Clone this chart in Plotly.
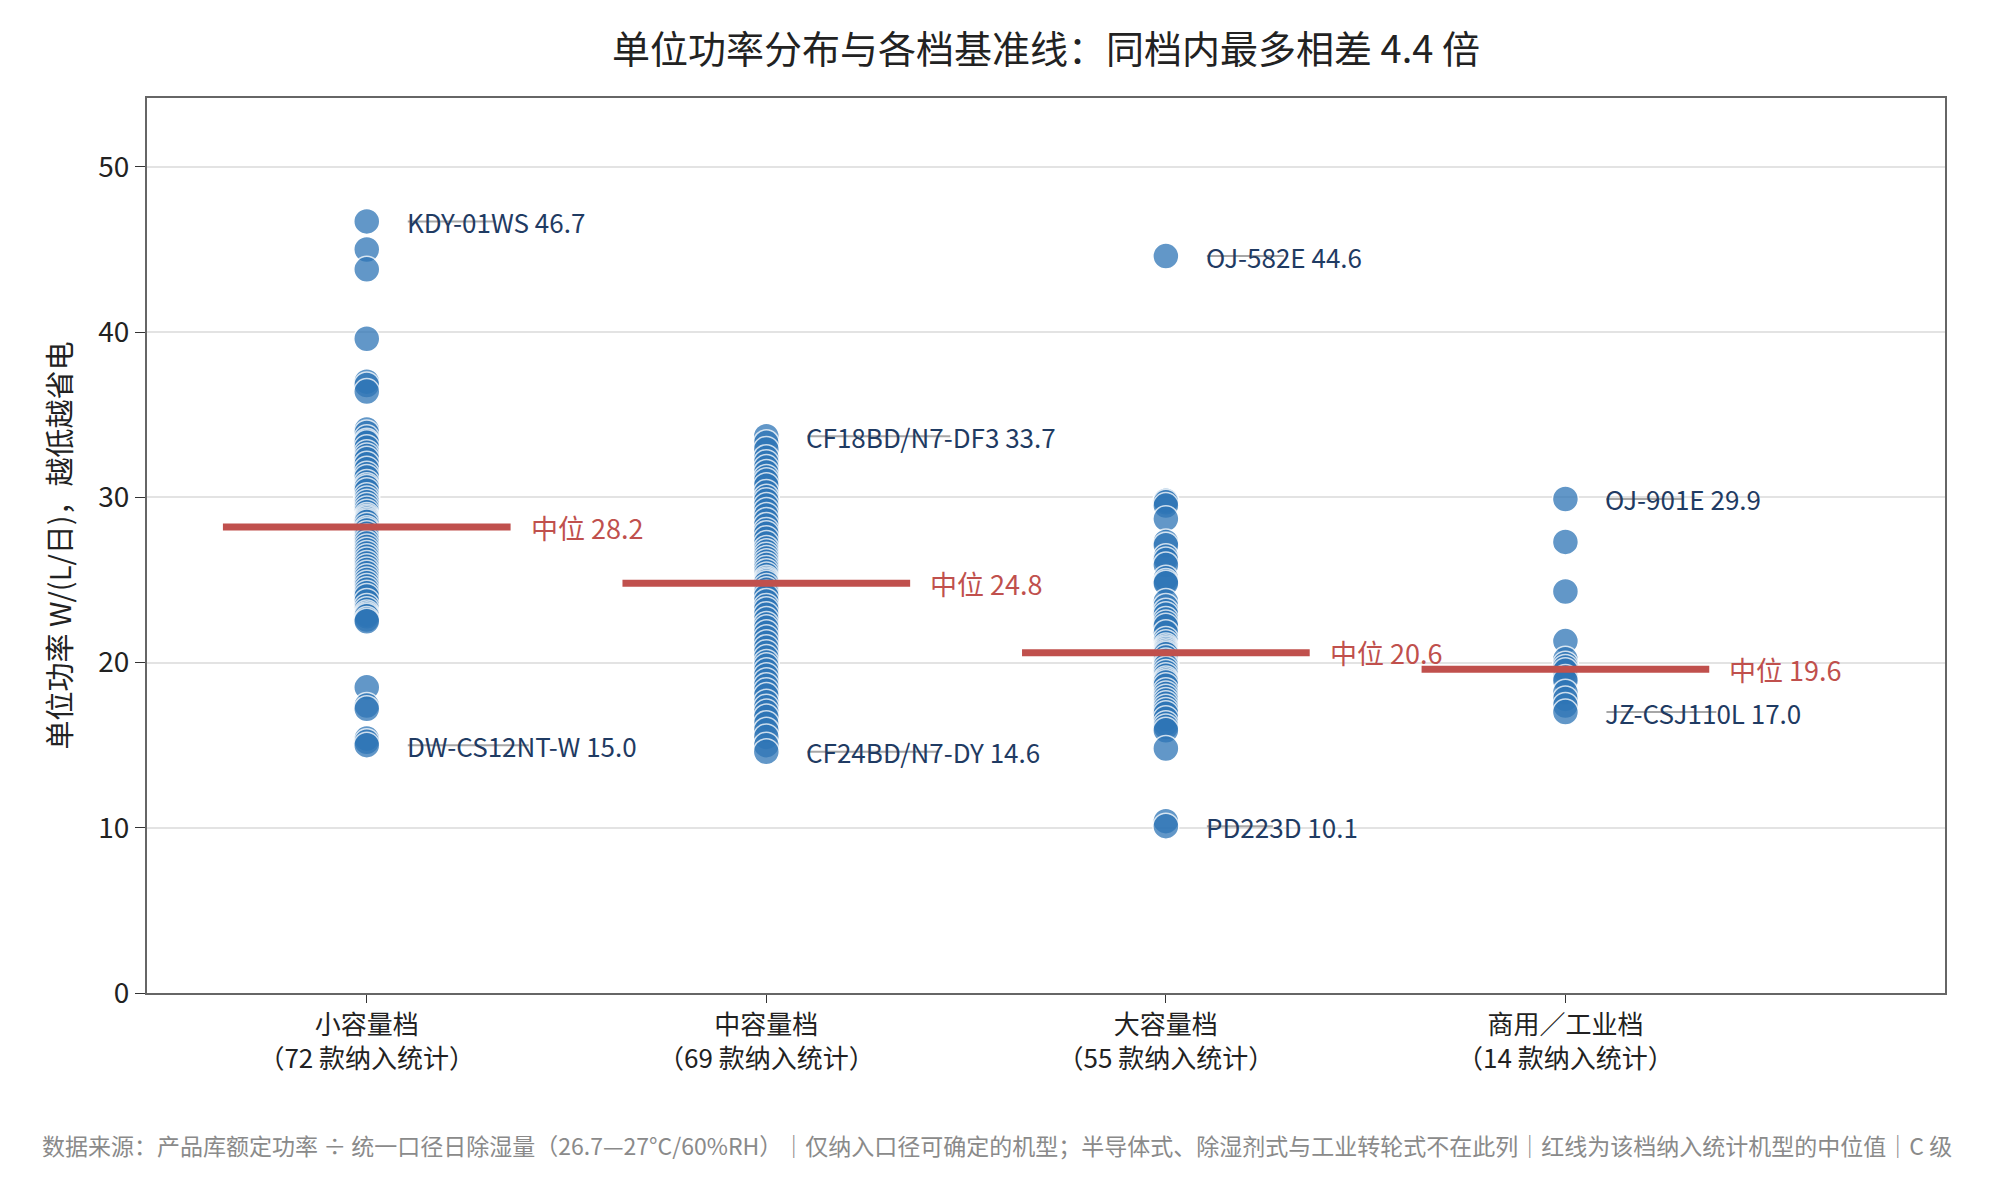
import numpy as np
import plotly.graph_objects as go

# ---------------- data (W per L/day) ----------------
tiers = ["小容量档", "中容量档", "大容量档", "商用／工业档"]

small_vals = [46.7, 45.0, 43.8, 39.6, 37.0, 36.8, 36.4,
              34.1, 33.9, 33.6, 33.4, 33.3, 33.0, 32.7, 32.5, 32.3, 32.0,
              31.7, 31.4, 31.2, 30.9, 30.7, 30.6, 30.4, 30.1, 29.9, 29.7,
              29.5, 29.3, 29.1, 28.9, 28.8, 28.7, 28.6, 28.5, 28.3,
              28.1, 28.0, 27.8, 27.6, 27.4, 27.2, 27.0, 26.8, 26.6, 26.4,
              26.2, 26.0, 25.8, 25.6, 25.4, 25.2, 25.0, 24.8, 24.6, 24.4,
              24.2, 24.0, 23.7, 23.4, 23.2, 23.0, 22.9, 22.8, 22.6, 22.5,
              18.5, 17.4, 17.2, 15.4, 15.2, 15.0]
mid_vals = [33.7, 33.3, 32.9, 32.4, 32.1, 31.8, 31.5, 31.2, 31.0, 30.7,
            30.3, 30.0, 29.8, 29.5, 29.2, 28.9, 28.6, 28.3, 28.0, 27.8,
            27.5, 27.2, 26.9, 26.7, 26.5, 26.3, 26.1, 25.9, 25.7, 25.5,
            25.3, 25.1, 25.0, 24.9, 24.8,
            24.6, 24.4, 24.2, 24.0, 23.7, 23.4, 23.2, 22.9, 22.6, 22.3,
            22.1, 21.8, 21.5, 21.2, 20.9, 20.6, 20.3, 20.0, 19.8, 19.5,
            19.2, 18.9, 18.6, 18.3, 18.0, 17.6, 17.3, 17.0, 16.7, 16.3,
            15.9, 15.5, 15.0, 14.6]
large_vals = [44.6, 29.8, 29.7, 29.5, 28.7, 27.3, 27.1, 26.4, 26.2, 25.9,
              25.1, 24.9, 24.8, 23.7, 23.4, 23.1, 22.9, 22.6, 22.4, 22.2,
              21.8, 21.4, 21.2, 21.0, 20.9, 20.8, 20.7, 20.6,
              20.5, 20.3, 20.1, 19.9, 19.8, 19.6, 19.4, 19.2, 19.0, 18.9,
              18.8, 18.6, 18.3, 18.1, 17.9, 17.7, 17.5, 17.3, 17.1, 16.9,
              16.6, 16.3, 16.1, 15.9, 14.8, 10.4, 10.1]
comm_vals = [29.9, 27.3, 24.3, 21.3, 20.2, 19.9, 19.7, 19.5, 19.1, 18.9,
             18.2, 17.8, 17.4, 17.0]

groups = [small_vals, mid_vals, large_vals, comm_vals]

# extreme models per tier: (name, value)
top_models = [("KDY-01WS", 46.7), ("CF18BD/N7-DF3", 33.7), ("OJ-582E", 44.6), ("OJ-901E", 29.9)]
low_models = [("DW-CS12NT-W", 15.0), ("CF24BD/N7-DY", 14.6), ("PD223D", 10.1), ("JZ-CSJ110L", 17.0)]

title = "单位功率分布与各档基准线：同档内最多相差 4.4 倍"
y_title = "单位功率 W/(L/日)，越低越省电"
footer = ("数据来源：产品库额定功率 ÷ 统一口径日除湿量（26.7—27°C/60%RH）｜仅纳入口径可确定的机型；"
          "半导体式、除湿剂式与工业转轮式不在此列｜红线为该档纳入统计机型的中位值｜C 级")

FONT = "Noto Sans CJK SC"
BLUE = "#2E75B6"
RED = "#C0504D"
NAVY = "#1F3B63"

fig = go.Figure()

for i, vals in enumerate(groups):
    fig.add_trace(go.Scatter(
        x=[i] * len(vals), y=vals, mode="markers",
        marker=dict(size=26, color=BLUE, opacity=0.75,
                    line=dict(color="white", width=1.5)),
        showlegend=False, hoverinfo="y",
    ))

# median lines + labels
for i, vals in enumerate(groups):
    med = float(np.median(vals))
    fig.add_shape(type="line", xref="x", yref="y",
                  x0=i - 0.36, x1=i + 0.36, y0=med, y1=med,
                  line=dict(color=RED, width=7), layer="above")
    fig.add_annotation(x=i + 0.405, y=med, text=f"中位 {med:.1f}",
                       showarrow=False, xanchor="left", yanchor="middle",
                       font=dict(family=FONT, size=27, color=RED))

# extreme-model labels
for i in range(len(tiers)):
    for name, v in (top_models[i], low_models[i]):
        fig.add_annotation(x=i, y=v, text=f"{name} {v:.1f}",
                           showarrow=False, xanchor="left", yanchor="middle",
                           xshift=38, font=dict(family=FONT, size=26, color=NAVY))
        fig.add_shape(type="line", xref="x", yref="y", xsizemode="pixel",
                      xanchor=i, x0=41, x1=41 + 11 * len(name), y0=v, y1=v,
                      line=dict(color="rgba(120,120,120,0.65)", width=2),
                      layer="above")

ticktext = [f"{t}<br>（{len(g)} 款纳入统计）" for t, g in zip(tiers, groups)]

fig.add_annotation(xref="paper", yref="paper", x=0.4725, y=-0.17,
                   text=footer, showarrow=False, xanchor="center", yanchor="middle",
                   font=dict(family=FONT, size=23, color="#8A8A8A"))

fig.update_layout(
    width=1985, height=1186,
    paper_bgcolor="white", plot_bgcolor="white",
    font=dict(family=FONT, color="#222222", size=26),
    title=dict(text=title, x=0.5, xref="paper", xanchor="center",
               y=0.9645, yanchor="middle",
               font=dict(family=FONT, size=38, color="#222222")),
    margin=dict(l=139, r=48, t=90, b=201),
    xaxis=dict(range=[-0.55, 3.95], tickvals=list(range(len(tiers))),
               ticktext=ticktext, showgrid=False, zeroline=False,
               showline=True, mirror=True, linecolor="#666666", linewidth=2,
               ticks="outside", ticklen=8, tickcolor="#333333",
               tickfont=dict(family=FONT, size=26, color="#222222")),
    yaxis=dict(range=[0, 54.17], dtick=10, showgrid=True, gridcolor="#E3E3E3",
               gridwidth=1.5, zeroline=False,
               showline=True, mirror=True, linecolor="#666666", linewidth=2,
               ticks="outside", ticklen=10, tickcolor="#333333",
               tickfont=dict(family=FONT, size=28, color="#222222"),
               title=dict(text=y_title, standoff=18,
                          font=dict(family=FONT, size=29, color="#222222"))),
)

fig.write_html("out.html")
